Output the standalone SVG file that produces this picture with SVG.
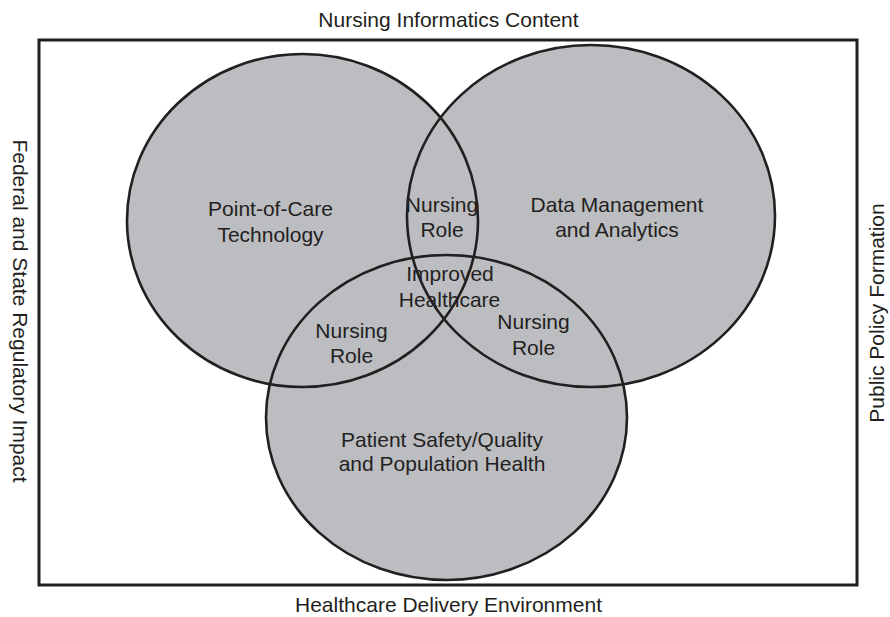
<svg xmlns="http://www.w3.org/2000/svg" width="890" height="617" viewBox="0 0 890 617">
  <style>
    .fill { fill: #bcbdc0; stroke: none; }
    .ring { fill: none; stroke: #231f20; stroke-width: 2.6; }
    .frame { fill: none; stroke: #231f20; stroke-width: 3; }
    text { font-family: "Liberation Sans", Arial, sans-serif; font-size: 21px; fill: #231f20; text-anchor: middle; }
  </style>
  <rect width="890" height="617" fill="#ffffff"/>

  <!-- outer frame and side labels -->
  <g id="frame">
    <rect class="frame" x="39" y="40" width="818" height="545"/>
    <text x="448.5" y="27">Nursing Informatics Content</text>
    <text x="448.5" y="612">Healthcare Delivery Environment</text>
    <text transform="translate(13 311) rotate(90)">Federal and State Regulatory Impact</text>
    <text transform="translate(884 313) rotate(-90)">Public Policy Formation</text>
  </g>

  <!-- shared grey fill under all three sets -->
  <g id="fills">
    <ellipse class="fill" cx="302.5" cy="220.5" rx="175.5" ry="166.5"/>
    <ellipse class="fill" cx="591" cy="216" rx="184" ry="171"/>
    <ellipse class="fill" cx="446.5" cy="417.5" rx="180.5" ry="162.5"/>
  </g>

  <g id="connectors"/>

  <g id="point-of-care">
    <ellipse class="ring" cx="302.5" cy="220.5" rx="175.5" ry="166.5"/>
    <text x="270.5" y="215.5">Point-of-Care</text>
    <text x="270.5" y="241.5">Technology</text>
  </g>

  <g id="data-management">
    <ellipse class="ring" cx="591" cy="216" rx="184" ry="171"/>
    <text x="617" y="211.5">Data Management</text>
    <text x="617" y="236.5">and Analytics</text>
  </g>

  <g id="patient-safety">
    <ellipse class="ring" cx="446.5" cy="417.5" rx="180.5" ry="162.5"/>
    <text x="442" y="446.5">Patient Safety/Quality</text>
    <text x="442" y="471">and Population Health</text>
  </g>

  <!-- overlap labels -->
  <g id="nursing-role-top">
    <text x="442" y="211.5">Nursing</text>
    <text x="442" y="236.5">Role</text>
  </g>
  <g id="improved-healthcare">
    <text x="450" y="280.5">Improved</text>
    <text x="449.5" y="306.5">Healthcare</text>
  </g>
  <g id="nursing-role-left">
    <text x="351.5" y="338">Nursing</text>
    <text x="351.5" y="363">Role</text>
  </g>
  <g id="nursing-role-right">
    <text x="533.5" y="329">Nursing</text>
    <text x="533.5" y="355">Role</text>
  </g>
</svg>
